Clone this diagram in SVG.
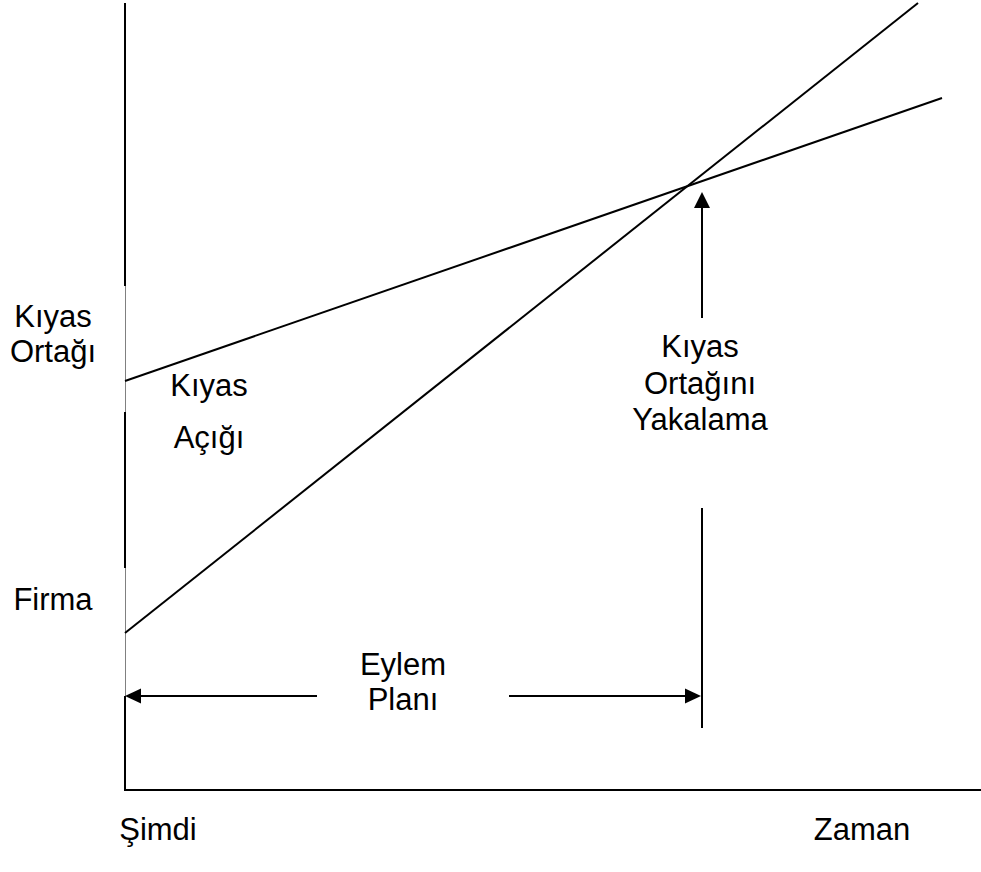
<svg xmlns="http://www.w3.org/2000/svg" width="981" height="872" viewBox="0 0 981 872">
  <style>
    .lbl { font-family: "Liberation Sans", Arial, sans-serif; font-size: 31px; fill: #000; text-anchor: middle; }
    .ln { stroke: #000; stroke-width: 2; fill: none; }
    .thin { stroke: #808080; stroke-width: 1; fill: none; }
    .head { fill: #000; stroke: none; }
  </style>
  <rect width="981" height="872" fill="#fff"/>

  <!-- axes -->
  <g id="axes">
    <line class="thin" x1="125.5" y1="3" x2="125.5" y2="790"/>
    <line class="ln" x1="125" y1="3" x2="125" y2="286"/>
    <line class="ln" x1="125" y1="412" x2="125" y2="568"/>
    <line class="ln" x1="125" y1="696" x2="125" y2="791"/>
    <line class="ln" x1="124" y1="790" x2="981" y2="790"/>
  </g>

  <!-- trend lines and arrows -->
  <g id="connectors">
    <line class="ln" x1="125" y1="381" x2="942" y2="98"/>
    <line class="ln" x1="125" y1="633" x2="918" y2="3"/>
    <!-- catch-up marker -->
    <line class="ln" x1="702" y1="206" x2="702" y2="318"/>
    <polygon class="head" points="702,192 694,208 710,208"/>
    <line class="ln" x1="702" y1="508" x2="702" y2="728"/>
    <!-- action plan span -->
    <line class="ln" x1="139" y1="696" x2="317" y2="696"/>
    <polygon class="head" points="125,696 141,688.5 141,703.5"/>
    <line class="ln" x1="509" y1="696" x2="687" y2="696"/>
    <polygon class="head" points="701,696 685,688.5 685,703.5"/>
  </g>

  <g id="label-partner">
    <text class="lbl" x="53" y="327">Kıyas</text>
    <text class="lbl" x="53" y="362">Ortağı</text>
  </g>
  <g id="label-firm">
    <text class="lbl" x="53" y="610">Firma</text>
  </g>
  <g id="label-gap">
    <text class="lbl" x="209" y="396">Kıyas</text>
    <text class="lbl" x="209" y="448">Açığı</text>
  </g>
  <g id="label-catchup">
    <text class="lbl" x="700" y="357">Kıyas</text>
    <text class="lbl" x="700" y="394">Ortağını</text>
    <text class="lbl" x="700" y="430">Yakalama</text>
  </g>
  <g id="label-plan">
    <text class="lbl" x="403" y="675">Eylem</text>
    <text class="lbl" x="403" y="710">Planı</text>
  </g>
  <g id="label-now">
    <text class="lbl" x="158" y="840">Şimdi</text>
  </g>
  <g id="label-time">
    <text class="lbl" x="862" y="840">Zaman</text>
  </g>
</svg>
